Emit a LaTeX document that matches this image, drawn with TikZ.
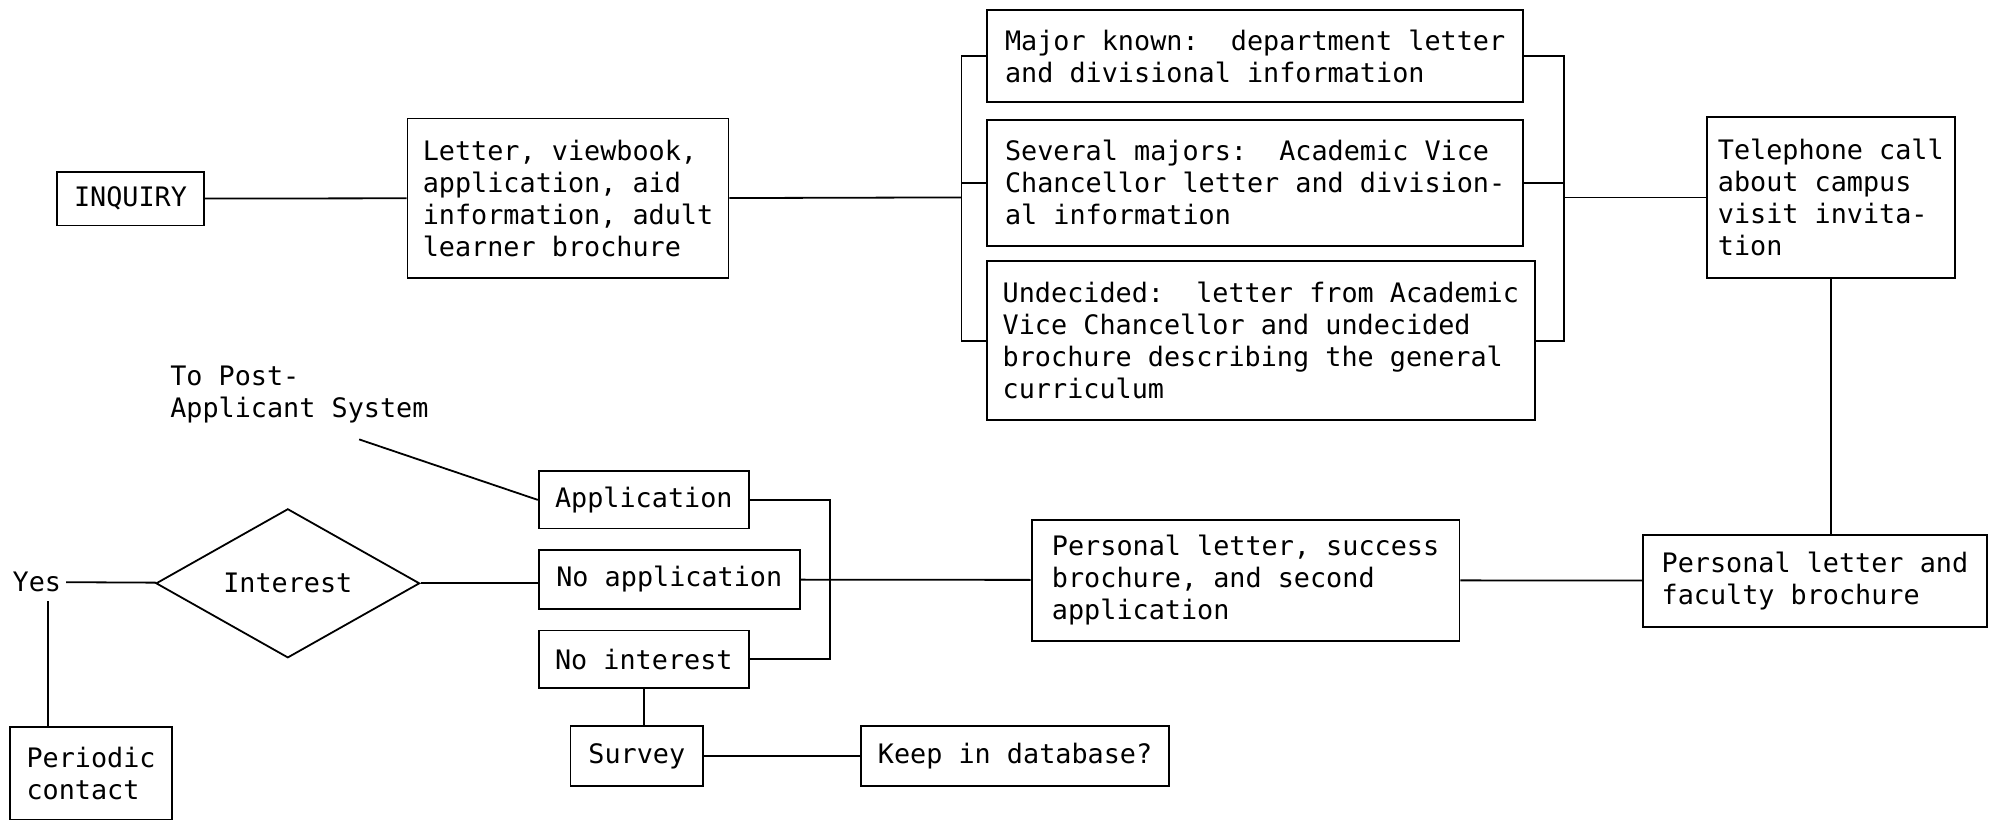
\documentclass[tikz,border=0pt]{standalone}
\usepackage{fontspec}
\setmonofont{DejaVu Sans Mono}
\usetikzlibrary{shapes.geometric}

\tikzset{
  box/.style={draw, align=left, inner sep=2pt},
  sz/.style 2 args={minimum width=#1*0.6368pt, minimum height=#2*0.6368pt},
}

\begin{document}
\begin{tikzpicture}[x=0.6368pt, y=-0.6368pt, line width=0.9pt,
    font=\ttfamily\fontsize{13.4}{16}\selectfont]
    \useasboundingbox (0,0) rectangle (1568,645);

    % top row
    \node[box, sz={115}{42}] (inquiry) at (102.5,156) {INQUIRY};
    \node[box, sz={252}{125}] (letter) at (446,155.5) {Letter, viewbook,\\application, aid\\information, adult\\learner brochure};
    \node[box, sz={421}{72}] (major) at (985.5,44) {Major known:\ \ department letter\\and divisional information};
    \node[box, sz={421}{99}] (several) at (985.5,143.5) {Several majors:\ \ Academic Vice\\Chancellor letter and division-\\al information};
    \node[box, sz={430}{125}] (undecided) at (990,267.5) {Undecided:\ \ letter from Academic\\Vice Chancellor and undecided\\brochure describing the general\\curriculum};
    \node[box, sz={195}{126}] (phone) at (1437.5,155) {Telephone call\\about campus\\visit invita-\\tion};

    % bottom row
    \node[box, sz={270}{72}] (faculty) at (1425,456) {Personal letter and\\faculty brochure};
    \node[box, sz={336}{95}] (success) at (978,455.5) {Personal letter, success\\brochure, and second\\application};
    \node[box, sz={165}{45}] (appl) at (505.5,392.5) {Application};
    \node[box, sz={205}{46}] (noappl) at (525.5,455) {No application};
    \node[box, sz={165}{45}] (nointerest) at (505.5,517.5) {No interest};
    \node[draw, diamond, sz={207}{116}, inner sep=0pt] (interest) at (226,458) {Interest};
    \node[inner sep=2pt] (yes) at (29,457) {Yes};
    \node[box, sz={127}{73}] (periodic) at (71.5,607) {Periodic\\contact};
    \node[box, sz={104}{47}] (survey) at (500,593.5) {Survey};
    \node[box, sz={242}{47}] (keep) at (797,593.5) {Keep in database?};
    \node[anchor=north west, align=left, inner sep=0pt] (post) at (133,287) {To Post-\\Applicant System};

    \coordinate (lb) at (755,155);
    \coordinate (rb) at (1228,155);
    \coordinate (ab) at (652,455);
    \coordinate (postend) at (282,345);
    \coordinate (yesfoot) at (38,472);

    % connectors
    \draw (inquiry) -- (letter);
    \draw (letter.east) -- (lb);
    \draw (major.west) -- (major.west -| lb) -- (undecided.west -| lb) -- (undecided.west);
    \draw (several.west) -- (several.west -| lb);
    \draw (major.east) -- (major.east -| rb) -- (undecided.east -| rb) -- (undecided.east);
    \draw (several.east) -- (several.east -| rb);
    \draw (rb) -- (phone);
    \draw (phone.south) -- (phone.south |- faculty.north);
    \draw (success) -- (faculty);
    \draw (noappl) -- (success);
    \draw (appl.east) -| (ab) |- (nointerest.east);
    \draw (interest) -- (noappl.west |- interest);
    \draw (yes) -- (interest);
    \draw (yesfoot) -- (yesfoot |- periodic.north);
    \draw (nointerest.south) -- (nointerest.south |- survey.north);
    \draw (survey) -- (keep);
    \draw (postend) -- (appl.west);
\end{tikzpicture}
\end{document}
